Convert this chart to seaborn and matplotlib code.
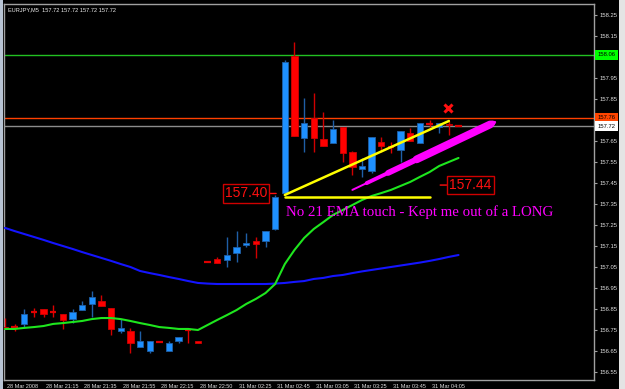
import numpy as np
import pandas as pd
import matplotlib
matplotlib.use("Agg")
import matplotlib.pyplot as plt
import matplotlib.transforms as mtransforms
from matplotlib.patches import Rectangle
import seaborn as sns

# ---------------- data ----------------
opens = [156.764, 156.767, 156.779, 156.836, 156.850, 156.836, 156.826, 156.802, 156.845, 156.874,
         156.888, 156.855, 156.745, 156.745, 156.669, 156.650, 156.693, 156.650, 156.698, 156.752,
         156.698, 157.076, 157.088, 157.083, 157.117, 157.155, 157.174, 157.174, 157.231, 157.400,
         158.055, 157.664, 157.760, 157.660, 157.640, 157.717, 157.598, 157.517, 157.507, 157.645,
         157.622, 157.607, 157.688, 157.640, 157.732, 157.717, 157.731, 157.721]
highs = [156.807, 156.780, 156.850, 156.855, 156.850, 156.869, 156.826, 156.850, 156.888, 156.936,
         156.917, 156.855, 156.802, 156.760, 156.745, 156.698, 156.693, 156.698, 156.717, 156.752,
         156.698, 157.076, 157.098, 157.193, 157.221, 157.212, 157.193, 157.221, 157.393, 158.036,
         158.121, 157.855, 157.879, 157.788, 157.750, 157.717, 157.600, 157.569, 157.669, 157.669,
         157.645, 157.698, 157.712, 157.736, 157.750, 157.736, 157.745, 157.721]
lows = [156.755, 156.745, 156.764, 156.812, 156.812, 156.812, 156.755, 156.783, 156.845, 156.812,
        156.864, 156.726, 156.736, 156.640, 156.669, 156.640, 156.693, 156.650, 156.688, 156.688,
        156.688, 157.072, 157.069, 157.050, 157.074, 157.145, 157.093, 157.145, 157.226, 157.400,
        157.674, 157.598, 157.598, 157.626, 157.640, 157.550, 157.488, 157.479, 157.498, 157.598,
        157.593, 157.550, 157.650, 157.640, 157.717, 157.688, 157.679, 157.719]
closes = [156.755, 156.764, 156.826, 156.834, 156.826, 156.834, 156.798, 156.836, 156.869, 156.907,
          156.864, 156.755, 156.760, 156.688, 156.698, 156.698, 156.691, 156.688, 156.717, 156.750,
          156.688, 157.072, 157.069, 157.107, 157.145, 157.164, 157.160, 157.221, 157.383, 158.026,
          157.674, 157.736, 157.664, 157.626, 157.707, 157.593, 157.526, 157.531, 157.669, 157.626,
          157.620, 157.698, 157.650, 157.736, 157.730, 157.736, 157.726, 157.720]
ema21 = [156.755, 156.755, 156.760, 156.764, 156.769, 156.779, 156.783, 156.788, 156.793, 156.802,
         156.807, 156.807, 156.802, 156.793, 156.783, 156.774, 156.764, 156.760, 156.755, 156.755,
         156.750, 156.774, 156.798, 156.821, 156.845, 156.874, 156.898, 156.926, 156.969, 157.064,
         157.131, 157.188, 157.231, 157.264, 157.298, 157.321, 157.345, 157.369, 157.388, 157.402,
         157.417, 157.436, 157.455, 157.479, 157.502, 157.531, 157.550, 157.569]
ma_slow = [157.236, 157.221, 157.207, 157.193, 157.179, 157.164, 157.150, 157.136, 157.121, 157.107,
           157.093, 157.079, 157.064, 157.050, 157.031, 157.021, 157.012, 157.002, 156.993, 156.983,
           156.974, 156.971, 156.969, 156.969, 156.969, 156.969, 156.969, 156.969, 156.971, 156.974,
           156.979, 156.983, 156.993, 156.998, 157.007, 157.012, 157.021, 157.029, 157.036, 157.043,
           157.050, 157.057, 157.064, 157.071, 157.079, 157.088, 157.098, 157.107]

x_tick_bars = [0, 4, 8, 12, 16, 20, 24, 28, 32, 36, 40, 44]
x_tick_labels = ["28 Mar 2008", "28 Mar 21:15", "28 Mar 21:35", "28 Mar 21:55", "28 Mar 22:15",
                 "28 Mar 22:50", "31 Mar 02:25", "31 Mar 02:45", "31 Mar 03:05", "31 Mar 03:25",
                 "31 Mar 03:45", "31 Mar 04:05"]
y_ticks = [156.55, 156.65, 156.75, 156.85, 156.95, 157.05, 157.15, 157.25, 157.35, 157.45,
           157.55, 157.65, 157.75, 157.85, 157.95, 158.05, 158.15, 158.25]
y_hidden = [157.75, 158.05]   # covered by the price boxes in the reference
title_text = "EURJPY,M5  157.72 157.72 157.72 157.72"

level_green = 158.06
level_orange = 157.76
level_bid = 157.72

trend_bars = [29, 46]
trend_prices = [157.393, 157.745]
flat_bars = [29, 44]
flat_price = 157.385
brush_bars = [36.0, 50.8]
brush_prices = [157.417, 157.740]
mark_bar, mark_price = 45.9, 157.807
label_bars = [28.1, 45.1]
label_prices = [157.40, 157.44]
note_text = "No 21 EMA touch - Kept me out of a LONG"
note_bar, note_price = 29.1, 157.312

# ---------------- style ----------------
sns.set_style("dark")
plt.rcParams['font.family'] = ['Liberation Sans', 'DejaVu Sans']

W, H = 625, 389
fig = plt.figure(figsize=(W / 100, H / 100), dpi=100, facecolor="black")
ax = fig.add_axes([4 / W, 1 - 380 / H, 590 / W, 376 / H])
ax.set_facecolor("black")

df = pd.DataFrame(dict(bar=np.arange(len(opens)), o=opens, h=highs, l=lows, c=closes))
bull_fill, bull_edge = "#1e90ff", "#1f5fa6"
bear_fill, bear_edge = "#ff0000", "#d00000"
body_w = 0.66

for _, r in df.iterrows():
    if abs(r.c - r.o) < 0.004:
        col = "#e00000"
        ax.vlines(r.bar, r.l, r.h, color=col, lw=1, zorder=3)
        ax.hlines((r.o + r.c) / 2, r.bar - body_w / 2, r.bar + body_w / 2, color=col, lw=1.6, zorder=3)
    else:
        up = r.c > r.o
        ec = bull_edge if up else bear_edge
        fc = bull_fill if up else bear_fill
        ax.vlines(r.bar, r.l, r.h, color=ec, lw=1, zorder=3)
        ax.bar(r.bar, abs(r.c - r.o), bottom=min(r.o, r.c), width=body_w, color=fc,
               edgecolor=ec, linewidth=0.6, zorder=4)

sns.lineplot(x=df.bar, y=ma_slow, ax=ax, color="#1414ff", lw=1.5, zorder=5)
sns.lineplot(x=df.bar, y=ema21, ax=ax, color="#1ee61e", lw=1.5, zorder=5)

# horizontal levels
ax.axhline(level_green, color="#22c022", lw=1, zorder=2)
ax.axhline(level_orange, color="#ff4000", lw=1, zorder=2)
ax.axhline(level_bid, color="#8c8c8c", lw=1, zorder=2)

# drawing objects
ax.plot(trend_bars, trend_prices, color="#ffff00", lw=1.8, zorder=6)
ax.plot(flat_bars, [flat_price, flat_price], color="#ffff00", lw=1.8, zorder=6)

bx0, bx1 = brush_bars
by0, by1 = brush_prices
for t0, t1, lw in [(0.0, 1.0, 1.4), (0.1, 0.99, 2.8), (0.25, 0.98, 4.2), (0.45, 0.965, 5.6)]:
    ax.plot([bx0 + t0 * (bx1 - bx0), bx0 + t1 * (bx1 - bx0)],
            [by0 + t0 * (by1 - by0), by0 + t1 * (by1 - by0)],
            color="#ff00ff", lw=lw, solid_capstyle="round", zorder=6, clip_on=False)

ax.plot([mark_bar], [mark_price], marker="x", color="#ff1010", ms=6, mew=2.2, zorder=7)

for b, p, side in zip(label_bars, label_prices, ["left", "right"]):
    off = -6.5 if side == "left" else 6.5
    ax.annotate(f"{p:.2f}", xy=(b, p), xytext=(off, 0), textcoords="offset points",
                ha="right" if side == "left" else "left", va="center", color="#ff1010",
                fontsize=10, family=["Liberation Sans", "DejaVu Sans"],
                bbox=dict(boxstyle="square,pad=0.15", fc="black", ec="#d00000", lw=1),
                arrowprops=dict(arrowstyle="-", color="#ff1010", lw=1, shrinkA=0, shrinkB=0),
                zorder=8)

ax.text(note_bar, note_price, note_text, color="#ff00ff", fontsize=10.7,
        family=["Liberation Serif", "DejaVu Serif"], ha="left", va="center", zorder=8)

# axes
ax.set_xlim(-0.1, 61.04)
ax.set_ylim(156.512, 158.302)
ax.grid(False)
for s in ax.spines.values():
    s.set_color("#a0a0a0")
    s.set_linewidth(1)

ax.yaxis.tick_right()
ax.set_yticks(y_ticks)
ax.set_yticklabels(["" if v in y_hidden else f"{v:.2f}" for v in y_ticks])
ax.tick_params(axis="y", colors="#a0a0a0", labelcolor="#e0e0e0", labelsize=4.2, length=2.5, width=0.8, pad=1.5)

ax.set_xticks(x_tick_bars)
ax.set_xticklabels(x_tick_labels)
ax.tick_params(axis="x", colors="#a0a0a0", labelcolor="#e0e0e0", labelsize=4.0, length=2.5, width=0.8, pad=0.3)
shift = mtransforms.ScaledTranslation(2 / 100, 0, fig.dpi_scale_trans)
for lab in ax.get_xticklabels():
    lab.set_ha("left")
    lab.set_transform(lab.get_transform() + shift)
ax.set_xlabel("")
ax.set_ylabel("")

# price boxes on the right scale
blend = mtransforms.blended_transform_factory(ax.transAxes, ax.transData)
for p, fc in [(level_green, "#00ff00"), (level_orange, "#ff4500"), (level_bid, "#ffffff")]:
    ax.text(1.006, p, f"{p:.2f}", transform=blend, ha="left", va="center", fontsize=4.2,
            color="black", clip_on=False, zorder=10,
            bbox=dict(boxstyle="square,pad=0.4", fc=fc, ec="none"))

ax.text(0.006, 0.99, title_text, transform=ax.transAxes, color="#f0f0f0", fontsize=4.1,
        ha="left", va="top", zorder=9)

# window border strips
fig.patches.append(Rectangle((0, 0), 3 / W, 1, transform=fig.transFigure, fc="#b8c4d4", ec="none", zorder=0))
fig.patches.append(Rectangle((619 / W, 0), 6 / W, 1, transform=fig.transFigure, fc="#e4e4e4", ec="none", zorder=0))

fig.savefig("out.png", dpi=100, facecolor="black")
